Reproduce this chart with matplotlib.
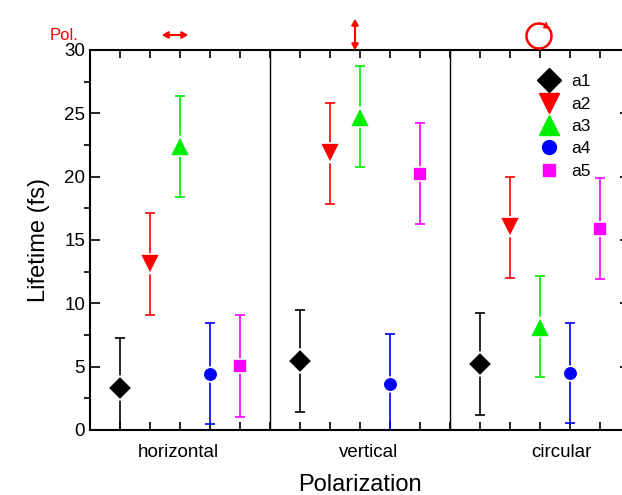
import numpy as np
import matplotlib
matplotlib.use("Agg")
import matplotlib.pyplot as plt
from matplotlib.patches import Arc, FancyArrowPatch, Polygon
from matplotlib.lines import Line2D

plt.rcParams['font.family'] = ['Liberation Sans', 'DejaVu Sans']

# data: lifetime (fs) per polarization group, each series = one component
groups = ['horizontal', 'vertical', 'circular']
series = ['a1', 'a2', 'a3', 'a4', 'a5']
a1 = [3.3, 5.45, 5.2]
a2 = [13.1, 21.85, 16.0]
a3 = [22.4, 24.75, 8.15]
a4 = [4.45, 3.6, 4.5]
a5 = [5.05, 20.25, 15.9]
a1_err = [4.0, 4.0, 4.0]
a2_err = [4.0, 4.0, 4.0]
a3_err = [4.0, 4.0, 4.0]
a4_err = [4.0, 3.95, 3.95]
a5_err = [4.0, 4.0, 4.0]

values = [a1, a2, a3, a4, a5]
errors = [a1_err, a2_err, a3_err, a4_err, a5_err]
colors = ['black', 'red', '#00ee00', 'blue', 'magenta']
markers = ['D', 'v', '^', 'o', 's']
msizes = [12.5, 15, 15, 10.5, 9.5]

W, H = 622, 495
fig = plt.figure(figsize=(W / 100, H / 100), dpi=100)
ax = fig.add_axes([90 / W, 65 / H, 540 / W, 380 / H])

for i, (vals, errs) in enumerate(zip(values, errors)):
    xs = [g * 6 + i + 1 for g in range(len(groups))]
    ax.errorbar(xs, vals, yerr=errs, fmt=markers[i], color=colors[i],
                ms=msizes[i], mec='white', mew=1.2, ecolor=colors[i],
                elinewidth=1.2, capsize=3.5, capthick=1.2, zorder=3)

# group dividers
for xd in [6, 12]:
    ax.axvline(xd, color='black', lw=1)

ax.set_xlim(0, 18)
ax.set_ylim(0, 30)
ax.set_xticks(np.arange(0, 19, 1))
ax.set_xticklabels([])
ax.set_yticks(np.arange(0, 31, 5))
ax.set_yticks(np.arange(0, 30.1, 2.5), minor=True)
ax.tick_params(axis='both', direction='in', top=True, right=True, labelsize=13.5)
ax.tick_params(axis='y', which='major', length=7, width=1.2)
ax.tick_params(axis='y', which='minor', length=4, width=1.2, right=True)
ax.tick_params(axis='x', which='major', length=6, width=1.2)
for sp in ax.spines.values():
    sp.set_linewidth(1.5)

# category labels under the axis
label_x = [2.95, 9.3, 15.7]
for gx, name in zip(label_x, groups):
    ax.text(gx, -0.06, name, transform=ax.get_xaxis_transform(),
            ha='center', va='center', fontsize=13.5)

ax.set_xlabel('Polarization', fontsize=17, labelpad=28)
ax.set_ylabel('Lifetime (fs)', fontsize=17, labelpad=10)

handles = [Line2D([], [], ls='none', marker=m, color=c, ms=s * 0.95)
           for m, c, s in zip(markers, colors, msizes)]
ax.legend(handles, series, loc='upper left', bbox_to_anchor=(0.795, 0.978),
          frameon=False, fontsize=12.5, handletextpad=0.5, labelspacing=0.42,
          handlelength=1.6)

# polarization symbols above the axes (pixel positions)
def fp(x, y):
    return (x / W, 1 - y / H)

fig.text(*fp(50, 36), 'Pol.', color='red', fontsize=12, ha='left', va='center')
fig.add_artist(FancyArrowPatch(fp(159, 35), fp(191, 35), transform=fig.transFigure,
                               arrowstyle='<|-|>,head_length=3.5,head_width=2',
                               color='red', lw=1.5))
fig.add_artist(FancyArrowPatch(fp(355, 16), fp(355, 53), transform=fig.transFigure,
                               arrowstyle='<|-|>,head_length=3.5,head_width=2',
                               color='red', lw=1.5))
cx, cy, r = 539, 36, 12.5
fig.add_artist(Arc(fp(cx, cy), 2 * r / W, 2 * r / H, theta1=0, theta2=360,
                   transform=fig.transFigure, color='red', lw=1.8))
tip = np.deg2rad(36)
base = np.deg2rad(64)
bx, by = cx + r * np.cos(base), cy - r * np.sin(base)
hw = 4
pts = [fp(cx + r * np.cos(tip), cy - r * np.sin(tip)),
       fp(bx + hw * np.cos(base), by - hw * np.sin(base)),
       fp(bx - hw * np.cos(base), by + hw * np.sin(base))]
fig.add_artist(Polygon(pts, closed=True, transform=fig.transFigure,
                       color='red', lw=0))

fig.savefig('out.png', dpi=100)
